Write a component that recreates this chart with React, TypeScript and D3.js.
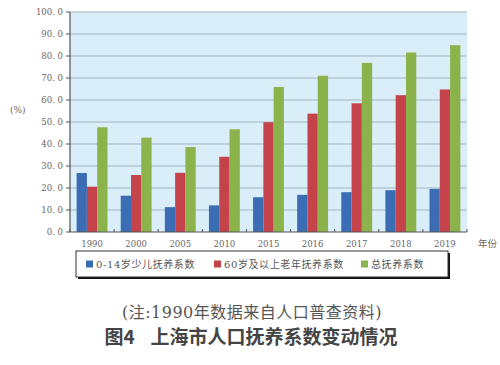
import React from 'react';
import * as d3 from 'd3';

// data
const years = ['1990', '2000', '2005', '2010', '2015', '2016', '2017', '2018', '2019'];
const childRatio = [26.8, 16.5, 11.3, 12.1, 15.8, 16.9, 18.1, 19.0, 19.6];
const elderRatio = [20.6, 25.9, 26.9, 34.2, 49.9, 53.8, 58.5, 62.2, 64.8];
const totalRatio = [47.6, 42.9, 38.6, 46.7, 65.9, 71.0, 76.9, 81.6, 84.9];
const seriesNames = ['0-14岁少儿抚养系数', '60岁及以上老年抚养系数', '总抚养系数'];
const seriesColors = ['#3b6db5', '#c5434b', '#8cb24c'];
const yTicks = [0, 10, 20, 30, 40, 50, 60, 70, 80, 90, 100];

const serif = '"DejaVu Serif", "Liberation Serif", "Noto Sans CJK SC", serif';
const cjk = '"Noto Sans CJK SC", sans-serif';

const App = () => {
  const width = 500;
  const height = 365;
  const margin = { top: 12, right: 33, bottom: 133, left: 70 };
  const innerW = width - margin.left - margin.right;
  const innerH = height - margin.top - margin.bottom;

  const x = d3.scaleBand().domain(years).range([0, innerW]).paddingInner(0.3).paddingOuter(0.15);
  const xSub = d3.scaleBand().domain(['0', '1', '2']).range([0, x.bandwidth()]);
  const y = d3.scaleLinear().domain([0, 100]).range([innerH, 0]);

  const series = [childRatio, elderRatio, totalRatio];
  const step = innerW / years.length;

  // legend placement
  const lg = { x: 76, y: 251, w: 372, h: 26 };
  const legendX = [86, 214, 361];

  return (
    <svg width={width} height={height} style={{ display: 'block', position: 'absolute', left: 0, top: 0 }}>
      <rect width={width} height={height} fill="#ffffff" />
      <g transform={`translate(${margin.left},${margin.top})`}>
        <rect width={innerW} height={innerH} fill="#daeef9" />
        {yTicks.map(t => (
          <g key={t}>
            {t > 0 && <line x1={0} x2={innerW} y1={y(t)} y2={y(t)} stroke="#9fb3c3" strokeWidth={1} />}
            <line x1={-4} x2={0} y1={y(t)} y2={y(t)} stroke="#555" />
            <text x={-7} y={y(t)} dy="0.35em" textAnchor="end" fontSize={8.5} fill="#666" fontFamily={serif}>
              {t.toFixed(1).replace('.', '. ')}
            </text>
          </g>
        ))}
        {years.map((yr, i) => (
          <g key={yr} transform={`translate(${x(yr)},0)`}>
            {series.map((s, k) => (
              <rect
                key={k}
                x={xSub(String(k))}
                y={y(s[i])}
                width={xSub.bandwidth()}
                height={innerH - y(s[i])}
                fill={seriesColors[k]}
              />
            ))}
          </g>
        ))}
        <line x1={0} x2={0} y1={0} y2={innerH} stroke="#555" strokeWidth={1.2} />
        <line x1={0} x2={innerW} y1={innerH} y2={innerH} stroke="#555" strokeWidth={1.2} />
        {d3.range(years.length + 1).map(i => (
          <line key={i} x1={i * step} x2={i * step} y1={innerH} y2={innerH - 3} stroke="#555" />
        ))}
        {years.map(yr => (
          <text
            key={yr}
            x={(x(yr) as number) + x.bandwidth() / 2}
            y={innerH + 15}
            textAnchor="middle"
            fontSize={8.5}
            fill="#666"
            fontFamily={serif}
          >
            {yr}
          </text>
        ))}
      </g>
      <text x={10} y={113} fontSize={9} fill="#666" fontFamily={serif}>(%)</text>
      <text x={478} y={247} fontSize={9.5} fill="#666" fontFamily={cjk}>年份</text>

      {/* legend with drop shadow */}
      <rect x={lg.x + 2} y={lg.y + 2} width={lg.w} height={lg.h} fill="#111" />
      <rect x={lg.x} y={lg.y} width={lg.w} height={lg.h} fill="#ffffff" stroke="#333" strokeWidth={1} />
      {seriesNames.map((n, k) => (
        <g key={n} transform={`translate(${legendX[k]},${lg.y + lg.h / 2})`}>
          <rect x={0} y={-3.5} width={7} height={7} fill={seriesColors[k]} />
          <text x={10} y={0} dy="0.35em" fontSize={10} letterSpacing={0.6} fill="#555" fontFamily={serif}>{n}</text>
        </g>
      ))}

      <text x={252} y={318} textAnchor="middle" fontSize={16} letterSpacing={0.5} fill="#555" fontFamily={serif}>
        (注:1990年数据来自人口普查资料)
      </text>
      <text x={251} y={344} textAnchor="middle" fontSize={19} fontWeight="bold" fill="#444" fontFamily={cjk}>
        <tspan>图4</tspan>
        <tspan dx={16}>上海市人口抚养系数变动情况</tspan>
      </text>
    </svg>
  );
};

export default App;
